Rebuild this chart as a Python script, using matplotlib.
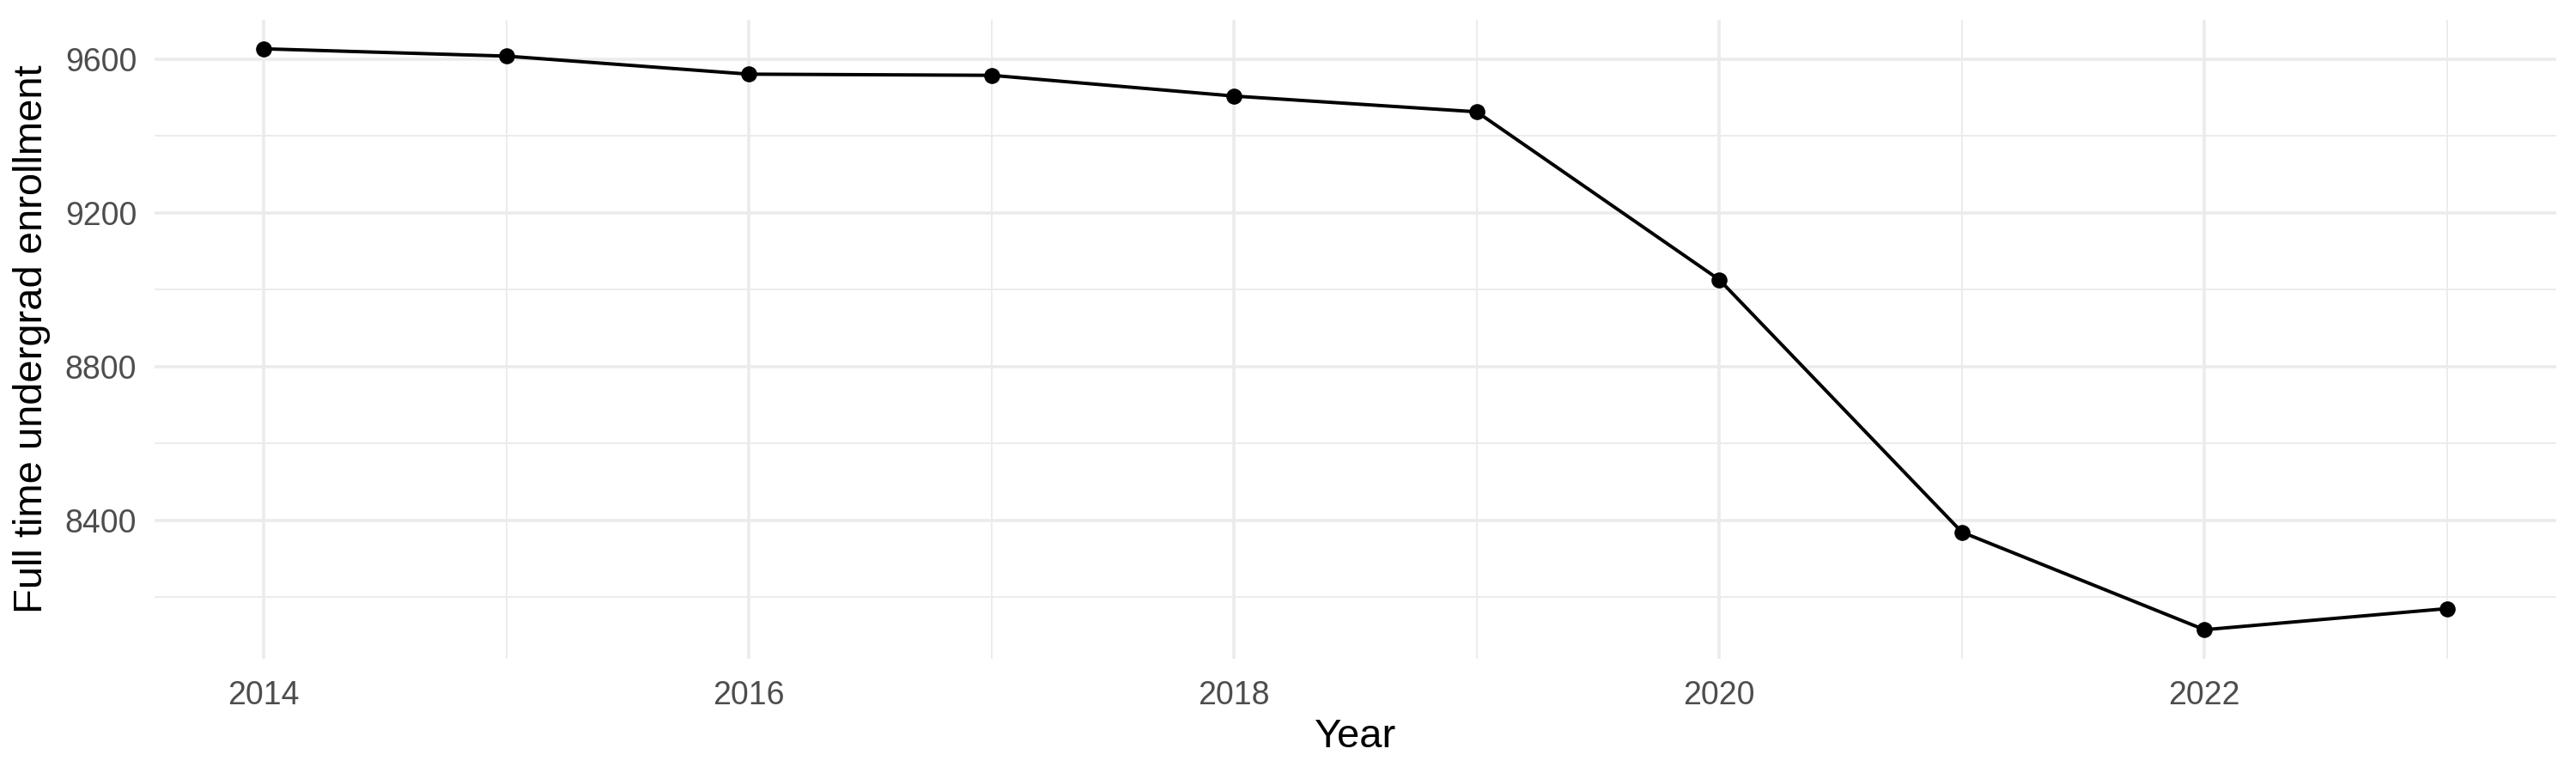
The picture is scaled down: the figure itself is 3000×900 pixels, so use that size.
import matplotlib
matplotlib.use("Agg")
import matplotlib.pyplot as plt
from matplotlib.ticker import MultipleLocator

years = [2014, 2015, 2016, 2017, 2018, 2019, 2020, 2021, 2022, 2023]
enrollment = [9627, 9608, 9561, 9558, 9504, 9463, 9026, 8369, 8115, 8170]
y_ticks = [8400, 8800, 9200, 9600]
x_ticks = [2014, 2016, 2018, 2020, 2022]

plt.rcParams['font.family'] = ['Liberation Sans', 'DejaVu Sans']

fig = plt.figure(figsize=(10, 3), dpi=300)
ax = fig.add_axes([180/3000, 1 - 767/900, (2977-180)/3000, (767-23)/900])

ax.plot(years, enrollment, color='black', linewidth=0.95, zorder=3)
ax.scatter(years, enrollment, color='black', s=20, zorder=4, linewidths=0)

xr = max(years) - min(years)
ax.set_xlim(min(years) - 0.05*xr, max(years) + 0.05*xr)
yr = max(enrollment) - min(enrollment)
ax.set_ylim(min(enrollment) - 0.05*yr, max(enrollment) + 0.05*yr)

ax.set_xticks(x_ticks)
ax.set_yticks(y_ticks)
ax.xaxis.set_minor_locator(MultipleLocator(1))
ax.yaxis.set_minor_locator(MultipleLocator(200))
ax.grid(which='major', color='#EBEBEB', linewidth=0.85)
ax.grid(which='minor', color='#EBEBEB', linewidth=0.45)
ax.set_axisbelow(True)
for s in ax.spines.values():
    s.set_visible(False)
ax.tick_params(which='both', length=0)
ax.tick_params(axis='both', labelsize=9.0, labelcolor='#4D4D4D')
ax.tick_params(axis='x', pad=6)
ax.tick_params(axis='y', pad=5)

ax.set_xlabel('Year', fontsize=11.3, color='black', labelpad=2)
ax.set_ylabel('Full time undergrad enrollment', fontsize=11.3, color='black', labelpad=4)

fig.savefig('out.png', dpi=300, facecolor='white')
